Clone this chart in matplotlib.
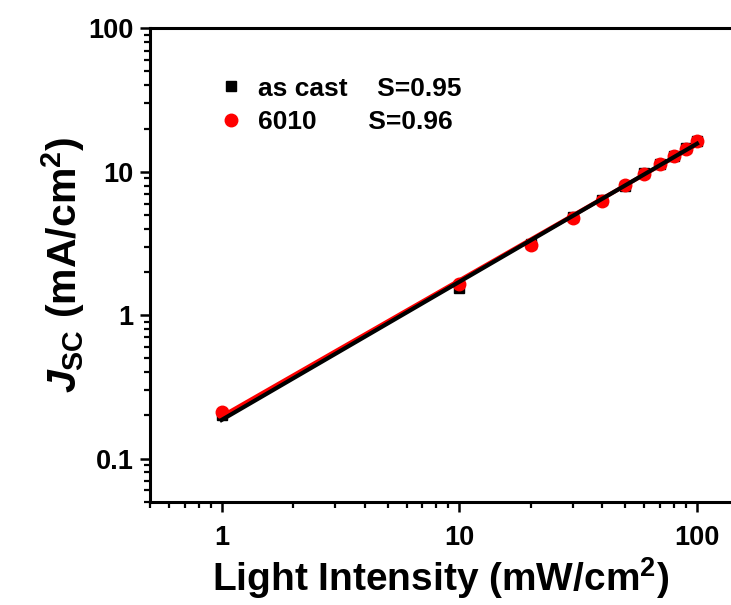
import numpy as np
import matplotlib
matplotlib.use("Agg")
import matplotlib.pyplot as plt
from matplotlib.ticker import LogLocator, FixedLocator, NullFormatter, FixedFormatter

plt.rcParams['font.family'] = ['Liberation Sans', 'DejaVu Sans']
plt.rcParams['font.weight'] = 'bold'
plt.rcParams['mathtext.fontset'] = 'custom'
plt.rcParams['mathtext.rm'] = 'Liberation Sans:bold'
plt.rcParams['mathtext.it'] = 'Liberation Sans:italic:bold'
plt.rcParams['mathtext.bf'] = 'Liberation Sans:bold'

# Data
intensity = [1, 10, 20, 30, 40, 50, 60, 70, 80, 90, 100]
jsc_ascast = [0.20, 1.55, 3.15, 4.8, 6.3, 8.0, 9.8, 11.4, 12.9, 14.6, 16.3]
jsc_6010 = [0.212, 1.64, 3.08, 4.75, 6.25, 8.05, 9.7, 11.4, 12.8, 14.5, 16.5]
labels = ["as cast    S=0.95", "6010       S=0.96"]
x_ticks = [1, 10, 100]
x_ticklabels = ["1", "10", "100"]
y_ticks = [0.1, 1, 10, 100]
y_ticklabels = ["0.1", "1", "10", "100"]

fig = plt.figure(figsize=(7.31, 6.05), dpi=100)
ax = fig.add_axes([150/731, 1-501.7/605, 1-150/731, (501.7-28.3)/605])

x = np.array(intensity, dtype=float)
yb = np.array(jsc_ascast)
yr = np.array(jsc_6010)

ax.plot(x, yb, 's', color='black', ms=7.5, zorder=2, label=labels[0])
ax.plot(x, yr, 'o', color='red', ms=9, zorder=3, label=labels[1])

xf = np.array([x.min(), x.max()])
pb = np.polyfit(np.log10(x), np.log10(yb), 1)
pr = np.polyfit(np.log10(x), np.log10(yr), 1)
ax.plot(xf, 10**np.polyval(pr, np.log10(xf)), '-', color='red', lw=3, zorder=4)
ax.plot(xf, 10**np.polyval(pb, np.log10(xf)), '-', color='black', lw=3, zorder=5)

ax.set_xscale('log')
ax.set_yscale('log')
ax.set_xlim(0.5, 139)
ax.set_ylim(0.05, 100)

ax.xaxis.set_major_locator(FixedLocator(x_ticks))
ax.xaxis.set_major_formatter(FixedFormatter(x_ticklabels))
ax.yaxis.set_major_locator(FixedLocator(y_ticks))
ax.yaxis.set_major_formatter(FixedFormatter(y_ticklabels))
ax.xaxis.set_minor_locator(LogLocator(base=10, subs=np.arange(2, 10), numticks=20))
ax.yaxis.set_minor_locator(LogLocator(base=10, subs=np.arange(2, 10), numticks=20))
ax.xaxis.set_minor_formatter(NullFormatter())
ax.yaxis.set_minor_formatter(NullFormatter())

ax.spines['right'].set_visible(False)
for s in ['left', 'bottom', 'top']:
    ax.spines[s].set_linewidth(2.2)

ax.tick_params(which='major', direction='out', length=7, width=1.8, labelsize=19.5, pad=5)
ax.tick_params(axis='x', which='major', pad=10)
ax.tick_params(which='minor', direction='out', length=4.5, width=1.6)
for lab in ax.get_xticklabels() + ax.get_yticklabels():
    lab.set_fontweight('bold')

ax.set_xlabel('Light Intensity (mW/cm$^\\mathrm{2}$)', fontsize=28, fontweight='bold', labelpad=3)
ax.set_ylabel('$J_\\mathrm{SC}$ (mA/cm$^\\mathrm{2}$)', fontsize=29.5, fontweight='bold', labelpad=1)

leg = ax.legend(loc='upper left', bbox_to_anchor=(0.125, 0.898), frameon=False,
                handlelength=0.6, handletextpad=0.75, labelspacing=0.35,
                borderpad=0, borderaxespad=0,
                prop={'weight': 'bold', 'size': 19})

fig.savefig('out.png', dpi=100)
